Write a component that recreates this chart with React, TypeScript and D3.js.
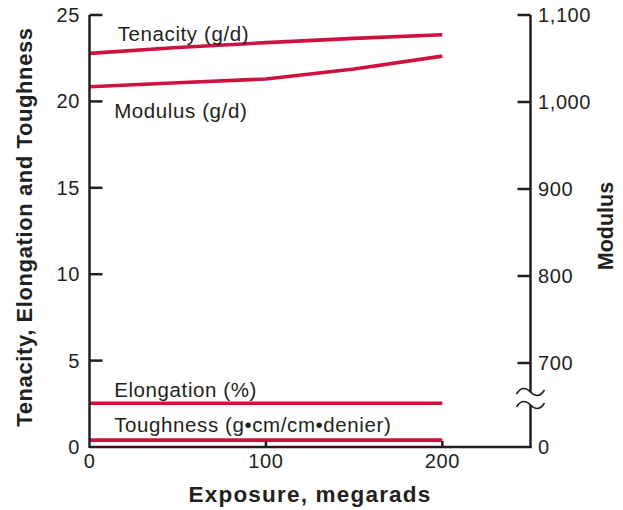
import React from "react";
import * as d3 from "d3";

const exposure = [0, 50, 100, 150, 200];
const tenacity = [22.78, 23.12, 23.4, 23.65, 23.86];
const modulusGd = [20.85, 21.08, 21.3, 21.88, 22.62];
const elongation = [2.53, 2.53, 2.53, 2.53, 2.53];
const toughness = [0.4, 0.4, 0.4, 0.4, 0.4];

const leftTicks = [0, 5, 10, 15, 20, 25];
const rightTicks = [0, 700, 800, 900, 1000, 1100];
const rightTickLabels = ["0", "700", "800", "900", "1,000", "1,100"];
const bottomTicks = [0, 100, 200];

const seriesLabels = [
  { text: "Tenacity (g/d)", x: 16, y: 23.52 },
  { text: "Modulus (g/d)", x: 14, y: 19.04 },
  { text: "Elongation (%)", x: 14, y: 2.89 },
  { text: "Toughness (g\u2022cm/cm\u2022denier)", x: 14, y: 0.885 },
];

const RED = "#d0103f";
const INK = "#231f20";
const FONT = "'Liberation Sans', Arial, Helvetica, sans-serif";

export default function App() {
  const W = 623;
  const H = 510;
  const x = d3.scaleLinear().domain([0, 250]).range([89.5, 530.5]);
  const y = d3.scaleLinear().domain([0, 25]).range([447, 15]);
  const yr = d3.scaleLinear().domain([0, 700, 1100]).range([447, 363, 15]);

  const line = d3
    .line<number>()
    .x((_, i) => x(exposure[i]))
    .y((d) => y(d));
  const curved = d3
    .line<number>()
    .x((_, i) => x(exposure[i]))
    .y((d) => y(d))
    .curve(d3.curveMonotoneX);

  const ax = x(0);
  const rx = x(250);
  const breakTop = 392;
  const breakBot = 405;
  const wave = (cy: number) =>
    `M${rx - 14},${cy + 2} C${rx - 9},${cy - 6} ${rx - 4},${cy - 4} ${rx},${cy} S${rx + 9},${cy + 6} ${rx + 14},${cy - 2}`;

  return (
    <svg width={W} height={H} style={{ position: "absolute", left: 0, top: 0 }} fontFamily={FONT}>
      <rect width={W} height={H} fill="#fff" />
      {/* data lines */}
      <path d={curved(tenacity) || ""} fill="none" stroke={RED} strokeWidth={3.6} />
      <path d={line(modulusGd) || ""} fill="none" stroke={RED} strokeWidth={3.6} />
      <path d={line(elongation) || ""} fill="none" stroke={RED} strokeWidth={3.6} />
      <path d={line(toughness) || ""} fill="none" stroke={RED} strokeWidth={3.6} />

      {/* axes */}
      <g stroke={INK} strokeWidth={2.5} fill="none">
        <line x1={ax} x2={ax} y1={y(25)} y2={y(0) + 1} />
        <line x1={ax} x2={rx + 1} y1={y(0)} y2={y(0)} />
        <line x1={rx} x2={rx} y1={yr(1100)} y2={breakTop} />
        <line x1={rx} x2={rx} y1={breakBot} y2={yr(0) + 1} />
        {leftTicks.filter((t) => t > 0).map((t) => (
          <line key={"l" + t} x1={ax} x2={ax + 13} y1={y(t)} y2={y(t)} />
        ))}
        {rightTicks.filter((t) => t > 0).map((t) => (
          <line key={"r" + t} x1={rx} x2={rx - 13} y1={yr(t)} y2={yr(t)} />
        ))}
        {bottomTicks.filter((t) => t > 0).map((t) => (
          <line key={"b" + t} x1={x(t)} x2={x(t)} y1={y(0)} y2={y(0) - 6} />
        ))}
      </g>
      <g stroke={INK} strokeWidth={1.6} fill="none">
        <path d={wave(breakTop)} />
        <path d={wave(breakBot)} />
      </g>

      {/* tick labels */}
      <g fill={INK} fontSize={20} letterSpacing={0.6}>
        {leftTicks.map((t) => (
          <text key={"lt" + t} x={80} y={y(t)} dy="0.35em" textAnchor="end">
            {t}
          </text>
        ))}
        {rightTicks.map((t, i) => (
          <text key={"rt" + t} x={538} y={yr(t)} dy="0.35em" textAnchor="start">
            {rightTickLabels[i]}
          </text>
        ))}
        {bottomTicks.map((t) => (
          <text key={"bt" + t} x={x(t)} y={468} textAnchor="middle">
            {t}
          </text>
        ))}
      </g>

      {/* series labels */}
      <g fill={INK} fontSize={20.5} letterSpacing={0.6}>
        {seriesLabels.map((s) => (
          <text key={s.text} x={x(s.x)} y={y(s.y)}>
            {s.text}
          </text>
        ))}
      </g>

      {/* axis titles */}
      <g fill={INK} fontSize={22} fontWeight="bold">
        <text x={310} y={502} textAnchor="middle" fontSize={22.5} letterSpacing={1.2}>
          Exposure, megarads
        </text>
        <text transform="translate(32,227) rotate(-90)" textAnchor="middle" letterSpacing={0.6}>
          Tenacity, Elongation and Toughness
        </text>
        <text transform="translate(613,226) rotate(-90)" textAnchor="middle" fontSize={21.5}>
          Modulus
        </text>
      </g>
    </svg>
  );
}
